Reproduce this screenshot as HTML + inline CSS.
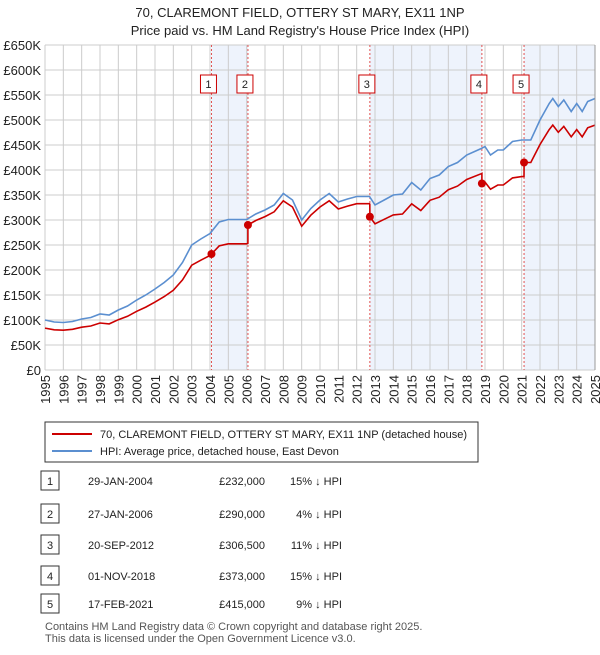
<!DOCTYPE html>
<html><head><meta charset="utf-8"><style>
body{margin:0;background:#fff;font-family:"Liberation Sans",sans-serif;}
svg text{font-family:"Liberation Sans",sans-serif;}
</style></head><body>
<svg id="c" width="600" height="650" xmlns="http://www.w3.org/2000/svg">
<text x="300" y="17" text-anchor="middle" font-size="13" fill="#222">70, CLAREMONT FIELD, OTTERY ST MARY, EX11 1NP</text>
<text x="300" y="35" text-anchor="middle" font-size="13" fill="#222">Price paid vs. HM Land Registry's House Price Index (HPI)</text>
<g id="plot"></g>
<g>
<rect x="45" y="422" width="433" height="40" fill="#fff" stroke="#333"/>
<line x1="52" y1="434" x2="92" y2="434" stroke="#cc0000" stroke-width="2"/>
<text x="100" y="438" font-size="11" fill="#222">70, CLAREMONT FIELD, OTTERY ST MARY, EX11 1NP (detached house)</text>
<line x1="52" y1="451" x2="92" y2="451" stroke="#5b8fd0" stroke-width="2"/>
<text x="100" y="455" font-size="11" fill="#222">HPI: Average price, detached house, East Devon</text>
</g>
<g id="table"></g>
<text x="45" y="630" font-size="11" fill="#555">Contains HM Land Registry data © Crown copyright and database right 2025.</text>
<text x="45" y="642" font-size="11" fill="#555">This data is licensed under the Open Government Licence v3.0.</text>
</svg>
<script>
const hpiYears=[1995,1995.5,1996,1996.5,1997,1997.5,1998,1998.5,1999,1999.5,2000,2000.5,2001,2001.5,2002,2002.5,2003,2003.5,2004,2004.5,2005,2006,2006.5,2007,2007.5,2008,2008.5,2009,2009.5,2010,2010.5,2011,2011.5,2012,2012.7,2013,2013.5,2014,2014.5,2015,2015.5,2016,2016.5,2017,2017.5,2018,2018.8,2019,2019.3,2019.7,2020,2020.5,2021,2021.5,2022,2022.5,2022.7,2023,2023.3,2023.7,2024,2024.3,2024.6,2025];
const hpiValues=[100,96,95,97,102,105,112,110,120,128,140,150,162,175,190,215,250,262,273,296,301,301,312,320,330,353,340,300,323,340,353,336,342,347,347,330,340,350,352,375,360,383,390,407,415,430,443,447,430,440,440,457,460,460,500,533,543,527,540,517,533,517,537,543];
const saleLabels=["1","2","3","4","5"];
const saleDates=["29-JAN-2004","27-JAN-2006","20-SEP-2012","01-NOV-2018","17-FEB-2021"];
const saleYears=[2004.08,2006.07,2012.72,2018.83,2021.13];
const salePrices=[232000,290000,306500,373000,415000];
const salePct=["15% ↓ HPI","4% ↓ HPI","11% ↓ HPI","15% ↓ HPI","9% ↓ HPI"];
const yTicks=[0,50,100,150,200,250,300,350,400,450,500,550,600,650];
const xTicks=[1995,1996,1997,1998,1999,2000,2001,2002,2003,2004,2005,2006,2007,2008,2009,2010,2011,2012,2013,2014,2015,2016,2017,2018,2019,2020,2021,2022,2023,2024,2025];

const NS="http://www.w3.org/2000/svg";
const X0=45,X1=595,Y0=370,Y1=45;
const xs=y=>X0+(y-1995)/30*(X1-X0);
const ys=v=>Y0-v/650*(Y0-Y1);
function mk(t,a,p){const e=document.createElementNS(NS,t);for(const k in a)e.setAttribute(k,a[k]);p.appendChild(e);return e;}
const plot=document.getElementById('plot');
function hpiAt(y){for(let i=0;i<hpiYears.length-1;i++){if(y<=hpiYears[i+1]){const t=(y-hpiYears[i])/(hpiYears[i+1]-hpiYears[i]);return hpiValues[i]+t*(hpiValues[i+1]-hpiValues[i]);}}return hpiValues[hpiValues.length-1];}
const shades=[[0,1],[2,3],[4,null]];
shades.forEach((s,i)=>{const a=xs(saleYears[s[0]]),b=s[1]===null?X1:xs(saleYears[s[1]]);
const r=mk('rect',{x:a,y:Y1,width:b-a,height:Y0-Y1,fill:'#eef3fc'},plot);

});
xTicks.forEach(t=>{const x=xs(t);mk('line',{x1:x,y1:Y1,x2:x,y2:Y0,stroke:'#ccc'},plot);
const tx=mk('text',{x:0,y:0,'text-anchor':'end','font-size':13,fill:'#222',transform:'translate('+(x+5)+','+(Y0+5)+') rotate(-90)'},plot);tx.textContent=t;

});
yTicks.forEach(t=>{const y=ys(t);mk('line',{x1:X0,y1:y,x2:X1,y2:y,stroke:'#ccc'},plot);
const tx=mk('text',{x:X0-4,y:y+5,'text-anchor':'end','font-size':13,fill:'#222'},plot);tx.textContent=t===0?'£0':'£'+t+'K';

});
saleYears.forEach((sy,i)=>{const x=xs(sy);
const l=mk('line',{x1:x,y1:Y1,x2:x,y2:Y0,stroke:'#e05050','stroke-dasharray':'2,2'},plot);


const b=mk('rect',{x:x-11,y:75,width:16,height:18,fill:'#fff',stroke:'#cc0000'},plot);


const t=mk('text',{x:x-3,y:88,'text-anchor':'middle','font-size':11,fill:'#222'},plot);t.textContent=saleLabels[i];});
let d='';hpiYears.forEach((y,i)=>{d+=(i?'L':'M')+xs(y).toFixed(1)+','+ys(hpiValues[i]).toFixed(1);});
const hp=mk('path',{d:d,fill:'none',stroke:'#5b8fd0','stroke-width':1.6},plot);


function factor(y){let k=0;for(let i=0;i<saleYears.length;i++){if(y>=saleYears[i])k=i;}return salePrices[k]/1000/hpiAt(saleYears[k]);}
const pts=[];hpiYears.forEach((y,i)=>pts.push([y,hpiValues[i]]));
saleYears.forEach(s=>{pts.push([s-0.001,hpiAt(s)]);pts.push([s,hpiAt(s)]);});
pts.sort((a,b)=>a[0]-b[0]);
let d2='';pts.forEach((p,i)=>{const v=p[1]*factor(p[0]);d2+=(i?'L':'M')+xs(p[0]).toFixed(1)+','+ys(v).toFixed(1);});
const rp=mk('path',{d:d2,fill:'none',stroke:'#cc0000','stroke-width':1.6},plot);


saleYears.forEach((sy,i)=>{const c=mk('circle',{cx:xs(sy),cy:ys(salePrices[i]/1000),r:4,fill:'#cc0000'},plot);

});
mk('line',{x1:X1,y1:Y1,x2:X1,y2:Y0,stroke:'#999'},plot);
const tb=document.getElementById('table');const rowY=[481,514,545,576,604];
saleLabels.forEach((l,i)=>{const y=rowY[i];
const b=mk('rect',{x:41,y:y-10,width:18,height:19,fill:'#fff',stroke:'#333'},tb);


const t0=mk('text',{x:50,y:y+4,'text-anchor':'middle','font-size':11,fill:'#222'},tb);t0.textContent=l;
const t1=mk('text',{x:88,y:y+4,'font-size':11,fill:'#222'},tb);t1.textContent=saleDates[i];


const t2=mk('text',{x:265,y:y+4,'text-anchor':'end','font-size':11,fill:'#222'},tb);t2.textContent='£'+salePrices[i].toLocaleString('en-GB');


const t3=mk('text',{x:342,y:y+4,'text-anchor':'end','font-size':11,fill:'#222'},tb);t3.textContent=salePct[i];

});
</script>
</body></html>
